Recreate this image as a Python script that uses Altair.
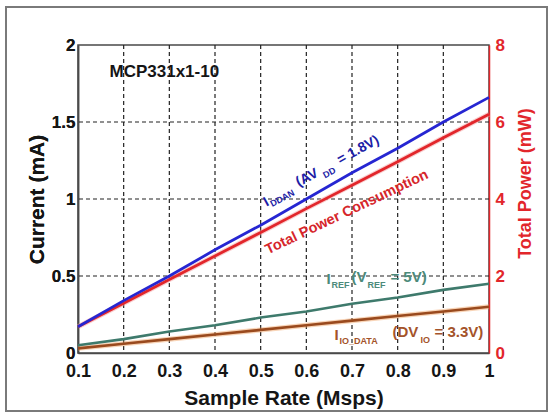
import altair as alt
import pandas as pd

# ---- measurements: current (mA) and total power (mW) vs sample rate (Msps)
rate = [0.1, 0.2, 0.3, 0.4, 0.5, 0.6, 0.7, 0.8, 0.9, 1.0]
i_ddan = [0.17, 0.34, 0.50, 0.67, 0.83, 1.00, 1.17, 1.33, 1.50, 1.66]
i_ref = [0.05, 0.09, 0.14, 0.18, 0.23, 0.27, 0.32, 0.36, 0.41, 0.45]
i_io_data = [0.03, 0.06, 0.09, 0.12, 0.15, 0.18, 0.21, 0.24, 0.27, 0.30]
p_total = [0.68, 1.29, 1.91, 2.52, 3.13, 3.75, 4.36, 4.97, 5.59, 6.20]

# ---- axis ticks
x_ticks = [0.1, 0.2, 0.3, 0.4, 0.5, 0.6, 0.7, 0.8, 0.9, 1.0]
current_ticks = [0, 0.5, 1, 1.5, 2]
power_ticks = [0, 2, 4, 6, 8]

FONT = "Liberation Sans"
INK = "#151515"
BLUE, BLUE_TXT = "#2626d2", "#1d1da6"
RED, RED_TXT = "#e2262b", "#d6262b"
GREEN, GREEN_TXT = "#3e7a6c", "#4c8a7a"
BROWN, BROWN_TXT = "#9a4a1e", "#a4532a"

W, H = 411, 308

df = pd.DataFrame({"rate": rate, "i_ddan": i_ddan, "i_ref": i_ref,
                   "i_io": i_io_data, "p_total": p_total})

x_axis = alt.Axis(values=x_ticks, format=".1~f", grid=False, ticks=False,
                  labelFont=FONT, labelFontSize=18, labelFontWeight="bold",
                  labelColor=INK, labelPadding=9, labelFlush=False,
                  domainColor="#4a4a4a", domainWidth=1.5,
                  title="Sample Rate (Msps)", titleFont=FONT, titleFontSize=21,
                  titleFontWeight="bold", titleColor=INK,
                  titleBaseline="alphabetic", titleX=W / 2, titleY=51)

left_axis = alt.Axis(values=current_ticks, format="~g", grid=False, ticks=False,
                     labelFont=FONT, labelFontSize=17, labelFontWeight="bold",
                     labelColor=INK, labelPadding=3,
                     domainColor="#4a4a4a", domainWidth=1.5,
                     title="Current (mA)", titleFont=FONT, titleFontSize=21,
                     titleFontWeight="bold", titleColor=INK, titleAngle=270,
                     titleBaseline="alphabetic", titleAlign="center",
                     titleX=-35, titleY=H / 2)

right_axis = alt.Axis(orient="right", values=power_ticks, format="~g",
                      grid=False, ticks=False,
                      labelFont=FONT, labelFontSize=17, labelFontWeight="bold",
                      labelColor=RED, labelPadding=6,
                      domainColor=RED, domainWidth=1.5,
                      title="Total Power (mW)", titleFont=FONT, titleFontSize=18,
                      titleFontWeight="bold", titleColor=RED, titleAngle=270,
                      titleBaseline="alphabetic", titleAlign="center",
                      titleX=41, titleY=138)


def xenc(field):
    return alt.X(field, type="quantitative",
                 scale=alt.Scale(domain=[0.1, 1.0], nice=False, zero=False),
                 axis=x_axis)


def yenc(field):
    return alt.Y(field, type="quantitative",
                 scale=alt.Scale(domain=[0, 2], nice=False), axis=left_axis)


# dashed grid at the interior tick positions
grid_v = alt.Chart(pd.DataFrame({"gx": x_ticks[1:-1]})).mark_rule(
    color="#222222", strokeWidth=1.2, strokeDash=[4, 3]).encode(x=xenc("gx"))
grid_h = alt.Chart(pd.DataFrame({"gy": current_ticks[1:-1]})).mark_rule(
    color="#222222", strokeWidth=1.2, strokeDash=[4, 3]).encode(y=yenc("gy"))

base = alt.Chart(df)
io_halo = base.mark_line(color="#f0a060", strokeWidth=5, opacity=0.45).encode(
    x=xenc("rate"), y=yenc("i_io"))
io_line = base.mark_line(color=BROWN, strokeWidth=2.6).encode(
    x=xenc("rate"), y=yenc("i_io"))
ref_line = base.mark_line(color=GREEN, strokeWidth=2.6).encode(
    x=xenc("rate"), y=yenc("i_ref"))
ddan_line = base.mark_line(color=BLUE, strokeWidth=2.8).encode(
    x=xenc("rate"), y=yenc("i_ddan"))


def piece(x0, y0, text, dx, dy, size, color, angle=0):
    mark = dict(align="left", baseline="alphabetic", dx=dx, dy=dy,
                font=FONT, fontWeight="bold", fontSize=size, color=color)
    if angle:
        mark["angle"] = angle
    return alt.Chart(pd.DataFrame({"x": [x0], "y": [y0], "t": [text]})).mark_text(
        **mark).encode(x=xenc("x"), y=yenc("y"), text="t:N")


labels = [piece(0.169, 1.79, "MCP331x1-10", 0, 0, 17, INK)]

# I_DDAN label along the blue line (offsets in the rotated text frame)
ddan_at = (0.5105, 0.961)
for text, s, t, size in [("I", 0, 2, 14), ("DDAN", 5, 5, 9), ("(AV", 38, 0, 14),
                         ("DD", 65, 5, 9), ("= 1.8V)", 85, 0, 14)]:
    labels.append(piece(*ddan_at, text, s, t, size, BLUE_TXT, angle=331.5))

# total power label along the red line
labels.append(piece(0.5105, 0.675, "Total Power Consumption", 0, 6, 14.5,
                    RED_TXT, angle=334.5))

# I_REF label
ref_at = (0.644, 0.461)
for text, dx, dy, size in [("I", 0, 2, 15), ("REF", 5, 6, 9), ("(V", 25, 0, 15),
                           ("REF", 41, 6, 9), ("= 5V)", 64, 0, 15)]:
    labels.append(piece(*ref_at, text, dx, dy, size, GREEN_TXT))

# I_IO_DATA label
io_at = (0.6616, 0.104)
for text, dx, dy, size in [("I", 0, 3, 15), ("IO_DATA", 5, 7, 9), ("(DV", 58, 0, 15),
                           ("IO", 86, 6, 9), ("= 3.3V)", 100, 0, 15)]:
    labels.append(piece(*io_at, text, dx, dy, size, BROWN_TXT))

# outer frame around the whole figure
frame = alt.Chart(pd.DataFrame({"k": [0]})).mark_rect(
    filled=False, stroke="#7a7a7a", strokeWidth=2).encode(
    x=alt.value(6 - 78), x2=alt.value(547 - 78),
    y=alt.value(7 - 45), y2=alt.value(411 - 45))

current_layer = alt.layer(frame, grid_v, grid_h, io_halo, io_line, ref_line,
                          *labels)

power_axis_y = alt.Y("p_total", type="quantitative",
                     scale=alt.Scale(domain=[0, 8], nice=False), axis=right_axis)
power_halo = base.mark_line(color="#f4a0a0", strokeWidth=5, opacity=0.5).encode(
    x=xenc("rate"), y=power_axis_y)
power_line = base.mark_line(color=RED, strokeWidth=2.8).encode(
    x=xenc("rate"), y=power_axis_y)
power_layer = alt.layer(power_halo, power_line)

ddan_layer = alt.layer(ddan_line)

chart = alt.layer(current_layer, power_layer, ddan_layer).resolve_scale(
    y="independent").properties(
    width=W, height=H,
    padding={"left": 78, "top": 45, "right": 554 - 78 - W, "bottom": 415 - 45 - H},
    autosize=alt.AutoSizeParams(type="none"),
    background="white",
).configure_view(stroke="#4a4a4a", strokeWidth=1.5)

chart.save("out.html", embed_options={"renderer": "svg", "actions": False})
